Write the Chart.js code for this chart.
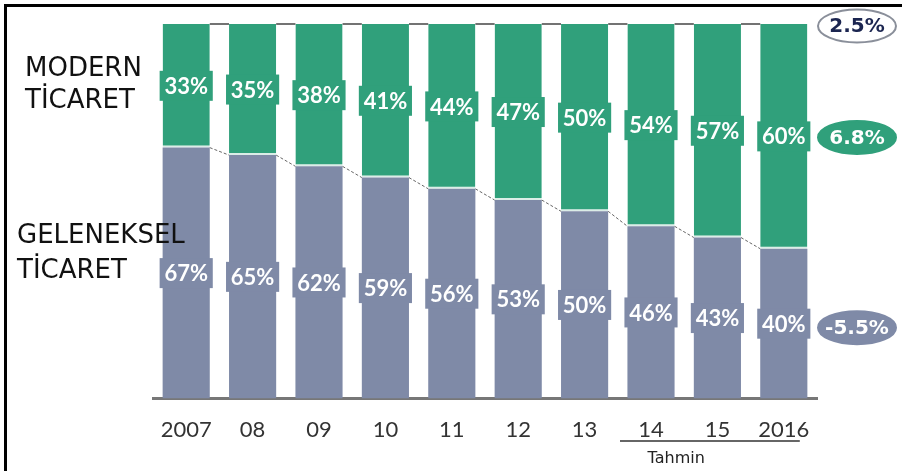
<!DOCTYPE html>
<html>
<head>
<meta charset="utf-8">
<script src="https://cdn.jsdelivr.net/npm/chart.js@4"></script>
<style>
html, body { margin: 0; padding: 0; background: #fff; }
#wrap { position: relative; width: 902px; height: 471px; }
</style>
</head>
<body>
<div id="wrap"><canvas id="tradeChart"></canvas></div>
<script>
// values (share of retail, %)
const years = ['2007', '08', '09', '10', '11', '12', '13', '14', '15', '2016'];
const geleneksel = [67, 65, 62, 59, 56, 53, 50, 46, 43, 40];
const modern = [33, 35, 38, 41, 44, 47, 50, 54, 57, 60];
const growthTotal = '2.5%';
const growthModern = '6.8%';
const growthGeleneksel = '-5.5%';
const forecastStart = 7; // '14' onward is forecast
const forecastText = 'Tahmin';

const green = '#30a07b';
const slate = '#7f8aa7';

const annotations = {
    id: 'annotations',
    afterDatasetsDraw(chart) {
        const ctx = chart.ctx;
        const low = chart.getDatasetMeta(0).data;
        const high = chart.getDatasetMeta(1).data;
        ctx.save();
        // connector lines between bars
        for (let i = 0; i < low.length - 1; i++) {
            const a = low[i], b = low[i + 1];
            ctx.strokeStyle = '#666';
            ctx.lineWidth = 1;
            ctx.setLineDash([3, 2]);
            ctx.beginPath();
            ctx.moveTo(a.x + a.width / 2, a.y);
            ctx.lineTo(b.x - b.width / 2, b.y);
            ctx.stroke();
            const c = high[i], d = high[i + 1];
            ctx.setLineDash([]);
            ctx.strokeStyle = '#444';
            ctx.lineWidth = 1.5;
            ctx.beginPath();
            ctx.moveTo(c.x + c.width / 2, c.y);
            ctx.lineTo(d.x - d.width / 2, d.y);
            ctx.stroke();
        }
        // value labels in small boxes
        ctx.font = 'bold 22px Lato';
        ctx.textAlign = 'center';
        ctx.textBaseline = 'middle';
        [low, high].forEach((bars, k) => {
            const values = k === 0 ? geleneksel : modern;
            ctx.fillStyle = k === 0 ? slate : green;
            bars.forEach((el) => {
                const cy = (el.y + el.base) / 2;
                ctx.fillRect(el.x - el.width / 2 - 3, cy - 15, el.width + 6, 30);
            });
            ctx.fillStyle = '#fff';
            bars.forEach((el, i) => {
                const cy = (el.y + el.base) / 2;
                ctx.fillText(values[i] + '%', el.x, cy + 1);
            });
        });
        ctx.restore();
    },
    afterDraw(chart) {
        const ctx = chart.ctx;
        const area = chart.chartArea;
        const low = chart.getDatasetMeta(0).data;
        const high = chart.getDatasetMeta(1).data;
        const x = chart.scales.x;
        ctx.save();
        // frame (top and left edge)
        ctx.fillStyle = '#000';
        ctx.fillRect(4, 4, chart.width - 4, 3);
        ctx.fillRect(4, 4, 3, chart.height - 4);

        // side titles
        ctx.fillStyle = '#111';
        ctx.font = '26px "DejaVu Sans"';
        ctx.textAlign = 'left';
        ctx.textBaseline = 'alphabetic';
        ctx.fillText('MODERN', 25, 76);
        ctx.fillText('TİCARET', 25, 108);
        ctx.fillText('GELENEKSEL', 17, 243);
        ctx.fillText('TİCARET', 17, 278);

        // growth ellipses
        const lastLow = low[low.length - 1];
        const lastHigh = high[high.length - 1];
        const ex = area.right + 40;
        const marks = [
            { t: growthTotal, y: lastHigh.y + 2, fill: '#fff', stroke: '#8a8f9a', color: '#1b2550' },
            { t: growthModern, y: (lastHigh.y + lastHigh.base) / 2 + 1, fill: green, stroke: green, color: '#fff' },
            { t: growthGeleneksel, y: (lastLow.y + lastLow.base) / 2 + 4, fill: slate, stroke: slate, color: '#fff' }
        ];
        ctx.font = 'bold 20px "DejaVu Sans"';
        ctx.textAlign = 'center';
        ctx.textBaseline = 'middle';
        marks.forEach((m) => {
            ctx.beginPath();
            ctx.ellipse(ex, m.y, 39, 16.5, 0, 0, Math.PI * 2);
            ctx.fillStyle = m.fill;
            ctx.fill();
            ctx.lineWidth = 2;
            ctx.strokeStyle = m.stroke;
            ctx.stroke();
            ctx.fillStyle = m.color;
            ctx.fillText(m.t, ex, m.y + 1);
        });

        // forecast marker
        const x0 = x.getPixelForValue(forecastStart) - 31;
        const x1 = x.getPixelForValue(years.length - 1) + 16;
        ctx.strokeStyle = '#666';
        ctx.lineWidth = 2;
        ctx.beginPath();
        ctx.moveTo(x0, 441);
        ctx.lineTo(x1, 441);
        ctx.stroke();
        ctx.fillStyle = '#222';
        ctx.font = '16px "DejaVu Sans"';
        const mid = (x.getPixelForValue(forecastStart) + x.getPixelForValue(forecastStart + 1)) / 2 - 8;
        ctx.fillText(forecastText, mid, 459);
        ctx.restore();
    }
};

const ctxTrade = document.getElementById('tradeChart').getContext('2d');
const tradeChart = new Chart(ctxTrade, {
    type: 'bar',
    data: {
        labels: years,
        datasets: [{
            label: 'GELENEKSEL TİCARET',
            data: geleneksel,
            backgroundColor: slate,
            borderWidth: 0
        }, {
            label: 'MODERN TİCARET',
            data: modern,
            backgroundColor: green,
            borderColor: 'rgba(215,235,228,0.9)',
            borderWidth: { top: 0, left: 0, right: 0, bottom: 2 },
            borderSkipped: false
        }]
    },
    options: {
        responsive: true,
        maintainAspectRatio: false,
        animation: false,
        barPercentage: 0.71,
        categoryPercentage: 1.0,
        layout: {
            padding: { left: 153, right: 85, top: 24, bottom: 10 }
        },
        plugins: {
            legend: { display: false },
            tooltip: { enabled: false }
        },
        scales: {
            x: {
                stacked: true,
                grid: { display: false, drawTicks: false },
                border: { display: true, color: '#777', width: 3 },
                ticks: {
                    color: '#333',
                    padding: 18,
                    font: { family: 'Lato', size: 22 }
                }
            },
            y: {
                stacked: true,
                display: false,
                min: 0,
                max: 100
            }
        }
    },
    plugins: [annotations]
});
</script>
</body>
</html>
